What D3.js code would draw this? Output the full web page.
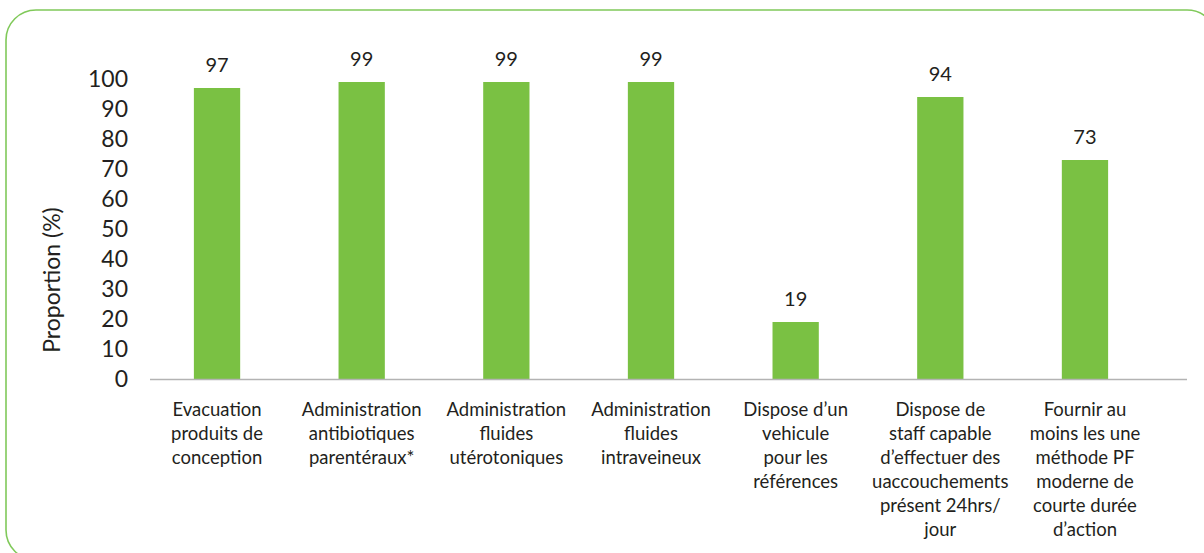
<!DOCTYPE html>
<html>
<head>
<meta charset="utf-8">
<script src="https://cdn.jsdelivr.net/npm/d3@7"></script>
<style>
  html, body { margin: 0; padding: 0; background: #fff; }
  svg { display: block; }
  text { font-family: Lato, "Noto Sans", sans-serif; fill: #231f20; }
</style>
</head>
<body>
<svg id="chart" width="1204" height="553"></svg>
<script>
// Services available in facilities (%)
const categories = [
  ["Evacuation", "produits de", "conception"],
  ["Administration", "antibiotiques", "parentéraux*"],
  ["Administration", "fluides", "utérotoniques"],
  ["Administration", "fluides", "intraveineux"],
  ["Dispose d’un", "vehicule", "pour les", "références"],
  ["Dispose de", "staff capable", "d’effectuer des", "uaccouchements", "présent 24hrs/", "jour"],
  ["Fournir au", "moins les une", "méthode PF", "moderne de", "courte durée", "d’action"]
];
const values = [97, 99, 99, 99, 19, 94, 73];
const yTicks = [0, 10, 20, 30, 40, 50, 60, 70, 80, 90, 100];
const yTitle = "Proportion (%)";

const svg = d3.select("#chart");
const green = "#7ac143";

// Rounded frame
svg.append("rect")
  .attr("x", 6).attr("y", 10)
  .attr("width", 1211).attr("height", 550)
  .attr("rx", 30).attr("ry", 30)
  .attr("fill", "none")
  .attr("stroke", "#80c95a")
  .attr("stroke-width", 1.6);

const x = d3.scaleBand()
  .domain(d3.range(categories.length))
  .range([144.7, 1157.3])
  .paddingInner(0.68)
  .paddingOuter(0.34);

const y = d3.scaleLinear().domain([0, 100]).range([379, 79]);

// Y axis tick labels (no line, no tick marks)
const yAxis = svg.append("g")
  .attr("transform", "translate(128,0)")
  .call(d3.axisLeft(y).tickValues(yTicks).tickSize(0).tickPadding(0));
yAxis.select(".domain").remove();
yAxis.selectAll("text")
  .attr("font-size", 23)
  .attr("font-family", "Lato, 'Noto Sans', sans-serif")
  .attr("fill", "#231f20");

// Y axis title
svg.append("text")
  .attr("transform", "translate(60,280) rotate(-90)")
  .attr("text-anchor", "middle")
  .attr("font-size", 23)
  .text(yTitle);

// Bars
svg.append("g").selectAll("rect")
  .data(values)
  .join("rect")
  .attr("x", (d, i) => x(i))
  .attr("y", d => y(d))
  .attr("width", x.bandwidth())
  .attr("height", d => y(0) - y(d))
  .attr("fill", green);

// Baseline
svg.append("line")
  .attr("x1", 150).attr("x2", 1187)
  .attr("y1", y(0) + 0.5).attr("y2", y(0) + 0.5)
  .attr("stroke", "#b3b3b3")
  .attr("stroke-width", 1.5);

// Value labels
svg.append("g").selectAll("text")
  .data(values)
  .join("text")
  .attr("x", (d, i) => x(i) + x.bandwidth() / 2)
  .attr("y", d => y(d) - 16)
  .attr("text-anchor", "middle")
  .attr("font-size", 20)
  .text(d => d);

// Category labels
const cat = svg.append("g").selectAll("text")
  .data(categories)
  .join("text")
  .attr("x", (d, i) => x(i) + x.bandwidth() / 2)
  .attr("y", 416)
  .attr("text-anchor", "middle")
  .attr("font-size", 18.5);
cat.selectAll("tspan")
  .data((d, i) => d.map(t => ({ t, i })))
  .join("tspan")
  .attr("x", d => x(d.i) + x.bandwidth() / 2)
  .attr("dy", (d, j) => j === 0 ? 0 : 24)
  .text(d => d.t);
</script>
</body>
</html>
